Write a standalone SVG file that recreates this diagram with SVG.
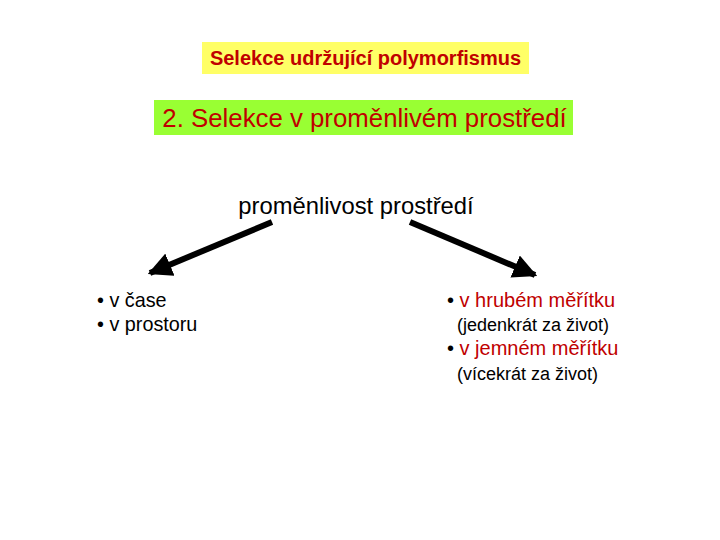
<svg xmlns="http://www.w3.org/2000/svg" width="720" height="540" viewBox="0 0 720 540">
<defs>
<style>
text{font-family:"Liberation Sans",Arial,sans-serif}
.red{fill:#C00000}
.blk{fill:#000}
.conn{stroke:#000;stroke-width:6;fill:none}
</style>
<marker id="ah" viewBox="0 0 10 10" refX="9" refY="5" markerWidth="4" markerHeight="4" orient="auto" markerUnits="strokeWidth">
<path d="M0,0 L10,5 L0,10 z" fill="#000"/>
</marker>
</defs>
<rect width="720" height="540" fill="#fff"/>
<g id="title">
<rect x="202" y="42" width="327" height="32" fill="#FFFF66"/>
<text x="365.5" y="65" font-size="20" font-weight="bold" text-anchor="middle" class="red">Selekce udržující polymorfismus</text>
</g>
<g id="subtitle">
<rect x="154" y="100" width="419" height="35" fill="#99FF33"/>
<text x="364.5" y="127" font-size="25.8" text-anchor="middle" class="red">2. Selekce v proměnlivém prostředí</text>
</g>
<g id="root">
<text x="356" y="214" font-size="23.8" text-anchor="middle" class="blk">proměnlivost prostředí</text>
</g>
<g id="left">
<text x="97" y="307" font-size="19.8" class="blk">• v čase</text>
<text x="97" y="331" font-size="19.8" class="blk">• v prostoru</text>
</g>
<g id="right">
<text x="447" y="307" font-size="20"><tspan class="blk">• </tspan><tspan class="red">v hrubém měřítku</tspan></text>
<text x="457" y="331" font-size="18" class="blk">(jedenkrát za život)</text>
<text x="447" y="355" font-size="20"><tspan class="blk">• </tspan><tspan class="red">v jemném měřítku</tspan></text>
<text x="457" y="380" font-size="18" class="blk">(vícekrát za život)</text>
</g>
<g id="connectors">
<line x1="272" y1="222" x2="150" y2="273" class="conn" marker-end="url(#ah)"/>
<line x1="410" y1="222" x2="535" y2="275" class="conn" marker-end="url(#ah)"/>
</g>
</svg>
